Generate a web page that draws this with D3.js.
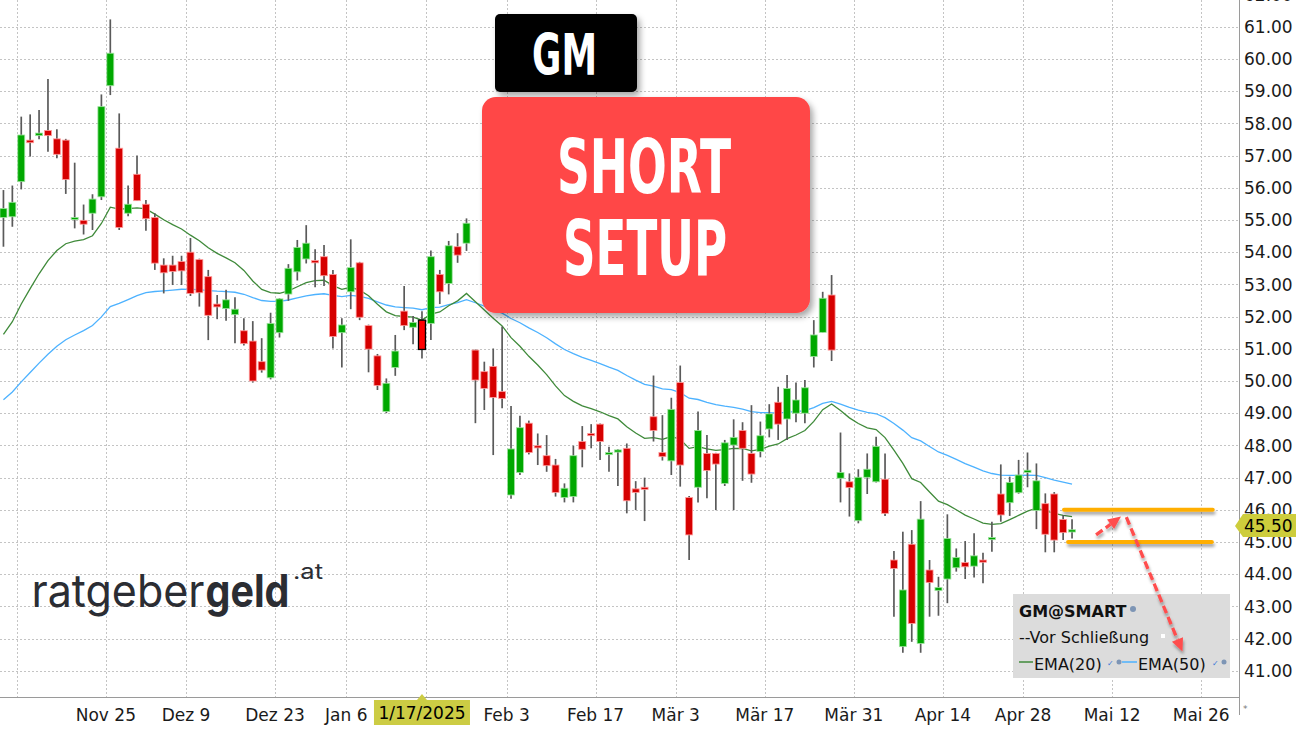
<!DOCTYPE html>
<html><head><meta charset="utf-8">
<script src="https://cdn.jsdelivr.net/npm/d3@7"></script>
<style>html,body{margin:0;padding:0;background:#fff;overflow:hidden}svg{display:block}</style>
</head><body>
<svg id="chart" width="1300" height="730"></svg>
<script>
// ---- Data (GM daily candles, 7 Nov 2024 .. 5 May 2025) ----
const opens = [55.08,55.10,56.19,57.48,57.62,57.78,57.52,57.48,55.02,54.99,
55.21,55.72,59.17,57.23,55.21,56.42,55.49,55.08,53.60,53.60,
53.71,54.00,53.77,53.24,52.39,52.25,52.06,51.56,51.24,50.60,
50.10,51.50,52.70,53.39,53.79,53.74,53.86,53.31,51.50,52.77,
53.67,51.72,50.78,49.05,50.42,52.17,51.67,51.89,51.79,53.31,
53.03,54.17,54.28,50.96,50.29,50.45,49.67,46.46,47.16,48.69,
47.99,47.68,47.39,46.38,46.41,48.12,48.37,48.66,47.72,47.81,
47.91,46.65,46.70,48.89,47.78,47.52,49.95,46.38,46.70,47.75,
47.75,46.82,48.01,48.46,47.75,47.81,48.51,49.34,48.82,49.00,
49.00,50.76,51.51,52.67,46.98,46.87,45.66,47.01,46.87,46.95,
44.44,41.75,44.93,41.85,44.13,43.49,43.85,44.20,44.36,44.25,
44.44,45.09,46.49,46.22,46.53,47.19,45.98,46.19,46.49,45.70,
45.31];
const highs = [55.93,56.07,58.21,58.28,58.42,59.38,57.82,57.52,56.78,55.48,
55.80,58.90,61.23,58.31,56.07,57.00,55.62,55.21,53.81,53.89,
53.89,54.44,53.80,53.45,52.67,52.83,52.60,51.95,51.86,51.33,
52.12,52.57,53.63,54.38,54.84,54.09,54.22,53.45,51.95,54.40,
53.70,51.75,50.84,50.08,51.43,52.95,52.02,52.17,54.05,53.45,
54.35,54.59,55.05,50.98,50.60,51.01,51.69,49.22,48.92,48.77,
48.37,48.32,47.58,46.82,47.99,48.60,48.66,48.68,47.96,47.88,
48.06,46.89,47.00,50.17,48.94,49.48,50.48,46.43,49.05,48.32,
47.77,48.17,48.81,48.72,49.25,48.74,49.28,49.82,50.19,49.95,
50.03,51.89,52.77,53.29,48.40,47.13,47.26,47.75,48.27,47.75,
44.72,45.32,45.37,46.27,44.44,43.92,45.86,44.80,45.03,45.27,
44.67,45.63,47.41,47.03,47.55,47.78,47.44,46.51,46.55,45.84,
45.71];
const lows = [54.17,54.79,55.95,56.97,57.51,57.12,56.92,55.81,54.74,54.55,
54.69,55.62,58.88,54.69,55.12,55.60,54.67,53.45,52.72,52.98,
52.98,52.64,52.31,51.27,51.92,51.87,51.17,51.10,49.95,50.26,
50.05,51.35,52.49,53.12,53.65,52.91,52.95,51.01,50.42,52.23,
51.89,50.27,49.72,49.00,50.16,51.58,51.14,50.70,51.27,52.39,
52.69,53.67,54.04,48.69,49.10,47.70,49.15,46.34,47.08,47.72,
47.39,47.18,46.41,46.23,46.23,47.32,47.91,47.55,47.18,46.74,
45.89,45.99,45.65,48.12,47.53,47.08,46.72,44.44,46.23,46.36,
45.99,46.74,45.99,46.90,46.84,47.63,48.25,48.17,48.17,48.72,
48.69,50.42,51.50,50.62,46.23,45.79,45.58,46.49,46.85,45.81,
42.68,41.56,41.90,41.56,42.68,42.71,43.10,44.08,43.85,43.90,
43.72,44.70,45.63,45.81,46.50,46.70,45.40,44.68,44.68,45.06,
45.11];
const closes = [55.36,55.55,57.64,57.40,57.70,57.62,57.04,56.26,55.08,54.87,
55.65,58.52,60.18,54.77,55.49,55.60,55.04,53.66,53.36,53.40,
53.42,52.72,52.74,52.04,52.30,52.52,52.23,51.16,50.00,50.34,
51.79,52.55,53.50,54.15,54.28,53.67,53.27,51.38,51.74,53.52,
51.98,50.99,49.86,49.93,50.93,51.72,51.82,50.98,53.86,52.77,
54.20,53.91,54.90,50.03,49.77,49.49,49.46,47.89,48.55,47.78,
47.93,47.37,46.54,46.67,47.68,47.88,48.33,48.12,47.78,47.86,
46.28,46.54,46.65,48.46,47.65,49.12,47.39,45.22,48.46,47.22,
47.42,48.08,48.25,47.91,47.11,48.30,48.98,48.66,49.77,49.41,
49.79,51.43,52.57,50.96,47.16,46.69,47.01,47.26,47.97,45.89,
44.18,43.51,42.47,45.71,43.74,43.59,45.11,44.52,44.23,44.57,
44.39,45.14,45.84,46.85,47.08,47.23,46.90,45.24,45.06,45.29,
45.38];
const slotCount = 139;                 // trading-day slots incl. empty future space
const tickIndex = [2,12,21,31,39,48,57,67,76,86,96,106,115,125,135];
// labels hidden in the original (cut at the edge / under the crosshair label) are empty
const tickLabels = ["","Nov 25","Dez 9","Dez 23","Jan 6","","Feb 3","Feb 17","Mär 3","Mär 17","Mär 31","Apr 14","Apr 28","Mai 12","Mai 26"];
const priceTicks = [41,42,43,44,45,46,47,48,49,50,51,52,53,54,55,56,57,58,59,60,61,62];
const ema20Start = 51.45, ema50Start = 49.42;   // indicator values at first visible bar
const lastPrice = 45.50;
const crosshairIndex = 47, crosshairLabel = "1/17/2025";
const levelPrices = [46, 45];
const levelFrom = [119.1, 119.55], levelTo = [135.8, 135.7];
const arrowFromIdx = [122.7, 126.1], arrowFromPx = [45.22, 45.77];
const arrowToIdx = [125.5, 132.4], arrowToPx = [45.79, 41.6];

// ---- Layout ----
const W = 1300, H = 730, plotR = 1239, plotB = 697;
const svg = d3.select("#chart");
const defs = svg.append("defs");
const f1 = defs.append("filter").attr("id","shadow").attr("filterUnits","userSpaceOnUse").attr("x",0).attr("y",0).attr("width",W).attr("height",H);
f1.append("feDropShadow").attr("dx",3).attr("dy",4).attr("stdDeviation",3).attr("flood-color","#000").attr("flood-opacity",0.35);
const f2 = defs.append("filter").attr("id","lshadow").attr("filterUnits","userSpaceOnUse").attr("x",0).attr("y",0).attr("width",W).attr("height",H);
f2.append("feDropShadow").attr("dx",1).attr("dy",3).attr("stdDeviation",1.5).attr("flood-color","#000").attr("flood-opacity",0.35);
defs.append("clipPath").attr("id","plotclip").append("rect").attr("x",0).attr("y",0).attr("width",plotR).attr("height",plotB);

const x = d3.scaleBand().domain(d3.range(slotCount)).range([-1.01, -1.01 + slotCount*8.905]).padding(0);
const xc = i => x(i) + x.bandwidth()/2;
const xf = v => x(0) + x.bandwidth()/2 + v * x.step();    // fractional slot index
const y = d3.scaleLinear().domain([41, 61]).range([670.8, 26.8]);

svg.append("rect").attr("width",W).attr("height",H).attr("fill","#fff");
const plot = svg.append("g").attr("clip-path","url(#plotclip)");

// grid
plot.append("g").selectAll("line").data(priceTicks).join("line")
  .attr("x1",0).attr("x2",plotR).attr("y1",d=>Math.round(y(d))+0.5).attr("y2",d=>Math.round(y(d))+0.5)
  .attr("stroke","#c4c4c4").attr("stroke-width",1).attr("stroke-dasharray","2,2");
plot.append("g").selectAll("line").data(tickIndex).join("line")
  .attr("x1",d=>Math.round(x(d))+0.5).attr("x2",d=>Math.round(x(d))+0.5).attr("y1",0).attr("y2",plotB)
  .attr("stroke","#c4c4c4").attr("stroke-width",1).attr("stroke-dasharray","2,2");

// EMAs
function ema(start, n){ const k = 2/(n+1); const out=[start]; for(let i=1;i<closes.length;i++){ out.push(out[i-1] + k*(closes[i]-out[i-1])); } return out; }
const ema20 = ema(ema20Start, 20), ema50 = ema(ema50Start, 50);
const line = d3.line().x((d,i)=>xc(i)).y(d=>y(d));
plot.append("path").datum(ema50).attr("d",line).attr("fill","none").attr("stroke","#4db2ff").attr("stroke-width",1.3);
plot.append("path").datum(ema20).attr("d",line).attr("fill","none").attr("stroke","#3f8a3a").attr("stroke-width",1.3);

// candles
const candles = d3.range(closes.length).map(i=>({i,o:opens[i],h:highs[i],l:lows[i],c:closes[i]}));
const cg = plot.append("g");
cg.selectAll("line").data(candles).join("line")
  .attr("x1",d=>xc(d.i)).attr("x2",d=>xc(d.i)).attr("y1",d=>y(d.h)).attr("y2",d=>y(d.l))
  .attr("stroke","#5a5a5a").attr("stroke-width",1.7);
const bw = 7;
cg.selectAll("rect").data(candles).join("rect")
  .attr("x",d=>xc(d.i)-bw/2).attr("width",bw)
  .attr("y",d=>y(Math.max(d.o,d.c)))
  .attr("height",d=>Math.max(2.2, Math.abs(y(d.o)-y(d.c))))
  .attr("fill",d=> d.i===crosshairIndex ? "#ff0000" : (d.c>=d.o ? "#00a800" : "#d60000"))
  .attr("stroke",d=> d.i===crosshairIndex ? "#000" : (d.c>=d.o ? "#9fe39f" : "#ff9c9c"))
  .attr("stroke-width",d=> d.i===crosshairIndex ? 1.3 : 0.8);

// axes lines
svg.append("line").attr("x1",0).attr("x2",plotR).attr("y1",plotB+0.5).attr("y2",plotB+0.5).attr("stroke","#9a9a9a").attr("stroke-width",1);
svg.append("line").attr("x1",plotR+0.5).attr("x2",plotR+0.5).attr("y1",0).attr("y2",715).attr("stroke","#9a9a9a").attr("stroke-width",1);
svg.append("text").attr("x",1243).attr("y",712).attr("font-family","DejaVu Sans").attr("font-size",9).attr("fill","#777").text("*");

// y tick labels
svg.append("g").selectAll("text").data(priceTicks).join("text")
  .attr("x",1244).attr("y",d=>y(d)).attr("dy","0.36em")
  .attr("font-family","DejaVu Sans").attr("font-size",17).attr("fill","#1a1a1a")
  .text(d=>d3.format(".2f")(d));

// x tick labels
svg.append("g").selectAll("text").data(tickIndex.filter((d,k)=>tickLabels[k]!=="")).join("text")
  .attr("x",d=>x(d)).attr("y",721).attr("text-anchor","middle")
  .attr("font-family","DejaVu Sans").attr("font-size",17).attr("fill","#1a1a1a")
  .text(d=>tickLabels[tickIndex.indexOf(d)]);

// crosshair date label
const chx = xc(crosshairIndex);
svg.append("path").attr("d",`M${chx-5},700 L${chx},694 L${chx+5},700 Z`).attr("fill","#cccc44");
svg.append("rect").attr("x",chx-48).attr("y",700).attr("width",96).attr("height",25).attr("fill","#cccc44");
svg.append("text").attr("x",chx).attr("y",719).attr("text-anchor","middle")
  .attr("font-family","DejaVu Sans").attr("font-size",17).attr("fill","#000").text(crosshairLabel);

// last price label
const ly = y(lastPrice);
svg.append("path").attr("d",`M1235,${ly} L1243,${ly-12} L1296,${ly-12} L1296,${ly+11} L1243,${ly+11} Z`).attr("fill","#cdcd3c");
svg.append("text").attr("x",1244).attr("y",ly).attr("dy","0.36em")
  .attr("font-family","DejaVu Sans").attr("font-size",17).attr("fill","#000").text(d3.format(".2f")(lastPrice));

// legend
const lg = svg.append("g");
lg.append("rect").attr("x",1013).attr("y",594).attr("width",217).attr("height",84).attr("fill","#dcdcdc");
lg.append("text").attr("x",1019).attr("y",617).attr("font-family","DejaVu Sans").attr("font-weight","bold").attr("font-size",16).attr("fill","#111").text("GM@SMART");
lg.append("circle").attr("cx",1133).attr("cy",609).attr("r",3).attr("fill","#7d95b5");
lg.append("text").attr("x",1019).attr("y",643).attr("font-family","DejaVu Sans").attr("font-size",16).attr("fill","#111").text("--Vor Schließung");
lg.append("rect").attr("x",1161).attr("y",634).attr("width",4).attr("height",4).attr("fill","#fff");
lg.append("line").attr("x1",1019).attr("x2",1033).attr("y1",662).attr("y2",662).attr("stroke","#3f8a3a").attr("stroke-width",1.5);
lg.append("text").attr("x",1034).attr("y",670).attr("font-family","DejaVu Sans").attr("font-size",16).attr("fill","#111").text("EMA(20)");
lg.append("text").attr("x",1107).attr("y",666).attr("font-family","DejaVu Sans").attr("font-size",8).attr("fill","#3a78d8").text("✓");
lg.append("circle").attr("cx",1119).attr("cy",662).attr("r",2.5).attr("fill","#7d95b5");
lg.append("line").attr("x1",1122).attr("x2",1137).attr("y1",662).attr("y2",662).attr("stroke","#4db2ff").attr("stroke-width",1.5);
lg.append("text").attr("x",1138).attr("y",670).attr("font-family","DejaVu Sans").attr("font-size",16).attr("fill","#111").text("EMA(50)");
lg.append("text").attr("x",1212).attr("y",666).attr("font-family","DejaVu Sans").attr("font-size",8).attr("fill","#3a78d8").text("✓");
lg.append("circle").attr("cx",1224).attr("cy",662).attr("r",2.5).attr("fill","#7d95b5");

// support/resistance levels
svg.append("g").attr("filter","url(#lshadow)").selectAll("line").data(levelPrices).join("line")
  .attr("x1",(d,k)=>xf(levelFrom[k])).attr("x2",(d,k)=>xf(levelTo[k]))
  .attr("y1",d=>y(d)).attr("y2",d=>y(d))
  .attr("stroke","#ffae00").attr("stroke-width",4).attr("stroke-linecap","round");

// dashed arrows
const ag = svg.append("g").attr("filter","url(#lshadow)");
arrowFromIdx.forEach((a,k)=>{
  const x1 = xf(a), y1 = y(arrowFromPx[k]), x2 = xf(arrowToIdx[k]), y2 = y(arrowToPx[k]);
  const ang = Math.atan2(y2-y1, x2-x1), hl = 13, hw = 6;
  const bx = x2 - hl*Math.cos(ang), by = y2 - hl*Math.sin(ang);
  ag.append("line").attr("x1",x1).attr("y1",y1).attr("x2",bx).attr("y2",by)
    .attr("stroke","#ff4d4d").attr("stroke-width",3.3).attr("stroke-dasharray","8,4");
  ag.append("path").attr("d",`M${x2},${y2} L${bx+hw*Math.sin(ang)},${by-hw*Math.cos(ang)} L${bx-hw*Math.sin(ang)},${by+hw*Math.cos(ang)} Z`)
    .attr("fill","#ff4d4d");
});

// logo
svg.append("text").attr("x",31.5).attr("y",607).attr("font-family","Inter").attr("font-weight",400).attr("font-size",45)
  .attr("fill","#2b2d33").attr("textLength",173).attr("lengthAdjust","spacingAndGlyphs").text("ratgeber");
svg.append("text").attr("x",205.5).attr("y",607).attr("font-family","Inter").attr("font-weight",700).attr("font-size",45)
  .attr("fill","#2b2d33").attr("textLength",84).attr("lengthAdjust","spacingAndGlyphs").text("geld");
svg.append("text").attr("x",293).attr("y",579).attr("font-family","Inter").attr("font-size",21).attr("fill","#2b2d33")
  .attr("textLength",30).attr("lengthAdjust","spacingAndGlyphs").text(".at");

// title boxes
svg.append("rect").attr("x",495).attr("y",14).attr("width",142).attr("height",78).attr("rx",5).attr("fill","#000").attr("filter","url(#shadow)");
svg.append("text").attr("x",532).attr("y",75).attr("font-family","DejaVu Sans").attr("font-weight","bold").attr("font-size",57)
  .attr("fill","#fff").attr("textLength",65).attr("lengthAdjust","spacingAndGlyphs").text("GM");
svg.append("rect").attr("x",482).attr("y",97).attr("width",328).attr("height",216).attr("rx",14).attr("fill","#ff4646").attr("filter","url(#shadow)");
svg.append("text").attr("x",557).attr("y",193).attr("font-family","DejaVu Sans").attr("font-weight","bold").attr("font-size",75)
  .attr("fill","#fff").attr("textLength",174).attr("lengthAdjust","spacingAndGlyphs").text("SHORT");
svg.append("text").attr("x",563).attr("y",275).attr("font-family","DejaVu Sans").attr("font-weight","bold").attr("font-size",77)
  .attr("fill","#fff").attr("textLength",164).attr("lengthAdjust","spacingAndGlyphs").text("SETUP");
</script>
</body></html>
